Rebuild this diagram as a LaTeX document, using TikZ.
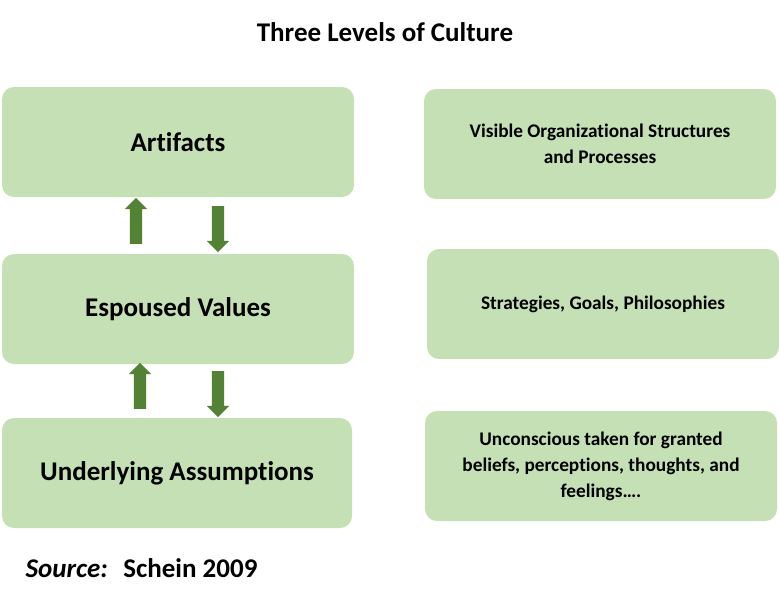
\documentclass[tikz,border=0pt]{standalone}
\usepackage{fontspec}
\setmainfont[Ligatures=NoCommon]{Carlito}
\usetikzlibrary{shapes.arrows}
\definecolor{boxgreen}{HTML}{C5E0B4}
\definecolor{arrowgreen}{HTML}{548235}
\begin{document}
\begin{tikzpicture}[x=1pt,y=-1pt,
    level/.style ={fill=boxgreen, rounded corners=12pt, font=\bfseries\fontsize{27}{31}\selectfont},
    meaning/.style ={fill=boxgreen, rounded corners=12pt, font=\bfseries\fontsize{19.3}{26}\selectfont, align=center},
    updown/.style ={single arrow, fill=arrowgreen, inner sep=6pt, minimum width=22pt,
      single arrow head extend=5pt, single arrow head indent=0pt, minimum height=46pt}]
   \useasboundingbox (0,0) rectangle (779,600);
   \node[font=\bfseries\fontsize{27}{31}\selectfont] (title) at (385,32) {Three Levels of Culture};

   \fill[level] (2,87) rectangle (354,197);
   \node[level, fill=none] (art) at (178,142) {Artifacts};
   \fill[level] (2,254) rectangle (354,364);
   \node[level, fill=none] (esp) at (178,309) {Espoused Values};
   \fill[level] (2,418) rectangle (352,528);
   \node[level, fill=none] (und) at (177,473) {Underlying Assumptions};

   \fill[meaning] (424,89) rectangle (776,199);
   \node[meaning, fill=none] (vis) at (600,144) {Visible Organizational Structures\\and Processes};
   \fill[meaning] (427,249) rectangle (779,359);
   \node[meaning, fill=none] (str) at (603,304) {Strategies, Goals, Philosophies};
   \fill[meaning] (425,411) rectangle (777,521);
   \node[meaning, fill=none] (unc) at (601,466) {Unconscious taken for granted\\beliefs, perceptions, thoughts, and\\feelings\dots.};

   \node[updown, rotate=90] (up1) at (136,224) {};
   \node[updown, rotate=-90] (down1) at (218,226) {};
   \node[updown, rotate=90] (up2) at (140,389) {};
   \node[updown, rotate=-90] (down2) at (218,391) {};

   \node[anchor=west, font=\fontsize{27}{31}\selectfont] (src) at (22,568) {\textbf{\textit{Source:}}\; \textbf{Schein 2009}};
\end{tikzpicture}
\end{document}
